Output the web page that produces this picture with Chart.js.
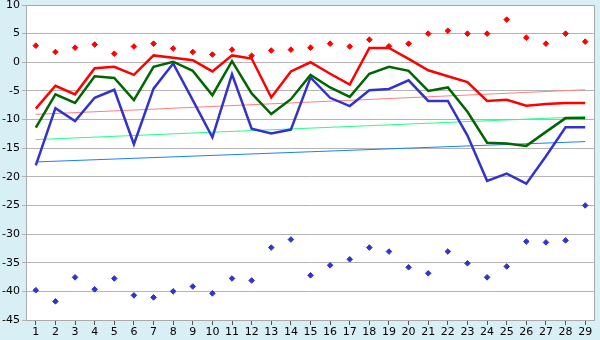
<!DOCTYPE html>
<html>
<head>
<meta charset="utf-8">
<script src="https://cdn.jsdelivr.net/npm/chart.js@4"></script>
<style>
  html, body { margin: 0; padding: 0; background: #d9eff6; }
  #wrap { width: 600px; height: 340px; }
</style>
</head>
<body>
<div id="wrap"><canvas id="myChart" width="600" height="340"></canvas></div>
<script>
const labels = ['1','2','3','4','5','6','7','8','9','10','11','12','13','14','15','16','17','18','19','20','21','22','23','24','25','26','27','28','29'];

const redLine = [-8.1,-4.1,-5.6,-1.05,-0.8,-2.2,1.2,0.8,0.35,-1.6,1.2,0.65,-6.15,-1.6,0,-2,-3.9,2.5,2.5,0.6,-1.4,-2.45,-3.45,-6.75,-6.55,-7.6,-7.3,-7.1,-7.1];
const greenLine = [-11.4,-5.6,-7.1,-2.45,-2.75,-6.6,-0.8,0.1,-1.5,-5.75,0.2,-5.45,-9.05,-6.45,-2.2,-4.4,-6.05,-2,-0.8,-1.5,-5,-4.4,-8.65,-14.05,-14.2,-14.6,-12.15,-9.75,-9.75];
const blueLine = [-18,-8,-10.25,-6.2,-4.8,-14.3,-4.6,-0.2,-6.6,-13.1,-2.1,-11.6,-12.45,-11.75,-2.65,-6.2,-7.65,-4.9,-4.65,-3.15,-6.75,-6.75,-12.8,-20.7,-19.45,-21.2,-16.4,-11.35,-11.35];

const redMarks = [2.9,1.8,2.55,3.1,1.5,2.75,3.25,2.4,1.8,1.35,2.2,1.15,2.05,2.2,2.55,3.25,2.75,3.95,2.8,3.25,5,5.5,5,5,7.45,4.3,3.25,5,3.6];
const blueMarks = [-39.8,-41.75,-37.55,-39.65,-37.75,-40.7,-41.05,-40,-39.15,-40.35,-37.75,-38.1,-32.35,-30.95,-37.2,-35.45,-34.4,-32.35,-33.05,-35.8,-36.85,-33.05,-35.1,-37.55,-35.65,-31.3,-31.45,-31.1,-25];

// trend lines: start and end values only
const redTrend = [-9.1, -4.8];
const greenTrend = [-13.5, -9.5];
const blueTrend = [-17.4, -13.85];

const yTicks = [10,5,0,-5,-10,-15,-20,-25,-30,-35,-40,-45];

const ends = (pair) => labels.map((l, i) => i === 0 ? pair[0] : (i === labels.length - 1 ? pair[1] : null));

const plotBg = {
    id: 'plotBg',
    beforeDraw(chart) {
        const {ctx, chartArea: a} = chart;
        ctx.save();
        ctx.fillStyle = '#d9eff6';
        ctx.fillRect(0, 0, chart.width, chart.height);
        ctx.fillStyle = '#ffffff';
        ctx.fillRect(a.left, a.top, a.right - a.left, a.bottom - a.top);
        ctx.restore();
    },
    afterDraw(chart) {
        const {ctx, chartArea: a} = chart;
        ctx.save();
        ctx.strokeStyle = '#aaaaaa';
        ctx.lineWidth = 1;
        ctx.strokeRect(a.left + 0.5, a.top + 0.5, a.right - a.left - 1, a.bottom - a.top);
        ctx.restore();
    }
};

const line = (data, color, width) => ({
    data: data, borderColor: color, backgroundColor: color, borderWidth: width,
    pointRadius: 0, tension: 0, fill: false, spanGaps: true
});
const marks = (data, color) => ({
    data: data, borderColor: color, backgroundColor: color, showLine: false,
    pointStyle: 'rectRot', pointRadius: 2.8, borderWidth: 1
});

var ctx = document.getElementById('myChart').getContext('2d');
var myChart = new Chart(ctx, {
    type: 'line',
    data: {
        labels: labels,
        datasets: [
            line(redLine, '#ff0000', 2.5),
            line(greenLine, '#006600', 2.5),
            line(blueLine, '#3333cc', 2.5),
            marks(redMarks, '#ff0000'),
            marks(blueMarks, '#3333cc'),
            line(ends(redTrend), '#ff8080', 1),
            line(ends(greenTrend), '#22ff88', 1),
            line(ends(blueTrend), '#1a7fff', 1)
        ]
    },
    plugins: [plotBg],
    options: {
        responsive: false,
        animation: false,
        layout: { padding: { top: 0, right: 5, left: 0, bottom: 0 } },
        plugins: { legend: { display: false }, tooltip: { enabled: false } },
        scales: {
            x: {
                offset: true,
                grid: { offset: false, drawOnChartArea: false, drawTicks: true, tickLength: 5, color: '#555555' },
                border: { display: false },
                ticks: { color: '#000', font: { family: 'DejaVu Sans', size: 11 }, padding: 1, maxRotation: 0, autoSkip: false },
                afterFit: (s) => { s.height = 20; }
            },
            y: {
                min: -45, max: 10,
                afterBuildTicks: (s) => { s.ticks = yTicks.map(v => ({value: v})); },
                grid: { color: '#b4b4b4', tickLength: 4 },
                border: { display: false },
                ticks: { color: '#000', font: { family: 'DejaVu Sans', size: 11 }, padding: 2 },
                afterFit: (s) => { s.width = 26; s.paddingTop = 5; s.paddingBottom = 0; }
            }
        }
    }
});
</script>
</body>
</html>
